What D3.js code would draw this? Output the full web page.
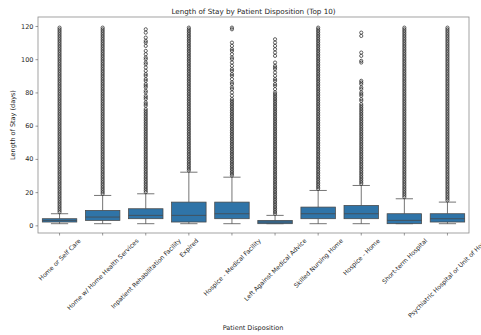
<!DOCTYPE html>
<html>
<head>
<meta charset="utf-8">
<script src="https://cdn.jsdelivr.net/npm/d3@7"></script>
<style>
  html, body { margin: 0; padding: 0; background: #fff; }
  svg text { font-family: "DejaVu Sans", sans-serif; fill: #262626; }
</style>
</head>
<body>
<svg id="chart" width="481" height="335"></svg>
<script>
// Patient disposition categories (top 10 by count)
const categories = [
  "Home or Self Care",
  "Home w/ Home Health Services",
  "Inpatient Rehabilitation Facility",
  "Expired",
  "Hospice - Medical Facility",
  "Left Against Medical Advice",
  "Skilled Nursing Home",
  "Hospice - Home",
  "Short-term Hospital",
  "Psychiatric Hospital or Unit of Hosp"
];

// Box statistics, length of stay in days
const whiskerLow  = [1, 1, 1, 1, 1, 1, 1, 1, 1, 1];
const quartile1   = [2, 3, 4, 2, 4, 1, 4, 4, 1, 2];
const medians     = [3, 5, 6, 6, 7, 2, 7, 7, 3, 4];
const quartile3   = [4, 9, 10, 14, 14, 3, 11, 12, 7, 7];
const whiskerHigh = [7, 18, 19, 32, 29, 6, 21, 24, 16, 14];

// Outlying stays per disposition
const outliersHomeSelfCare = [8,9,10,11,12,13,14,15,16,17,18,19,20,21,22,23,24,25,26,27,28,29,30,31,32,33,34,35,36,37,38,39,40,41,42,43,44,45,46,47,48,49,50,51,52,53,54,55,56,57,58,59,60,61,62,63,64,65,66,67,68,69,70,71,72,73,74,75,76,77,78,79,80,81,82,83,84,85,86,87,88,89,90,91,92,93,94,95,96,97,98,99,100,101,102,103,104,105,106,107,108,109,110,111,112,113,114,115,116,117,118,119];
const outliersHomeHealth = [19,20,21,22,23,24,25,26,27,28,29,30,31,32,33,34,35,36,37,38,39,40,41,42,43,44,45,46,47,48,49,50,51,52,53,54,55,56,57,58,59,60,61,62,63,64,65,66,67,68,69,70,71,72,73,74,75,76,77,78,79,80,81,82,83,84,85,86,87,88,89,90,91,92,93,94,95,96,97,98,99,100,101,102,103,104,105,106,107,108,109,110,111,112,113,114,115,116,117,118,119];
const outliersInpatientRehab = [20,21,22,23,24,25,26,27,28,29,30,31,32,33,34,35,36,37,38,39,40,41,42,43,44,45,46,47,48,49,50,51,52,53,54,55,56,57,58,59,60,61,62,63,64,65,66,67,68,69,70,72,73,74,76,77,78,80,81,83,84,85,87,88,90,91,93,95,97,98,100,101,103,105,108,110,111,113,116,118];
const outliersExpired = [33,34,35,36,37,38,39,40,41,42,43,44,45,46,47,48,49,50,51,52,53,54,55,56,57,58,59,60,61,62,63,64,65,66,67,68,69,70,71,72,73,74,75,76,77,78,79,80,81,82,83,84,85,86,87,88,89,90,91,92,93,94,95,96,97,98,99,100,101,102,103,104,105,106,107,108,109,110,111,112,113,114,115,116,117,118,119];
const outliersHospiceMedical = [30,31,32,33,34,35,36,37,38,39,40,41,42,43,44,45,46,47,48,49,50,51,52,53,54,55,56,57,58,59,60,61,62,63,64,65,66,67,68,69,70,71,72,73,74,75,76,78,80,82,83,85,86,88,90,91,93,94,96,98,100,101,103,105,106,108,110,118,119];
const outliersLeftAMA = [7,8,9,10,11,12,13,14,15,16,17,18,19,20,21,22,23,24,25,26,27,28,29,30,31,32,33,34,35,36,37,38,39,40,41,42,43,44,45,46,47,48,49,50,51,52,53,54,55,56,57,58,59,60,61,62,63,64,65,66,67,68,69,70,71,72,73,74,75,76,77,78,79,80,82,84,85,87,88,90,92,94,95,96,98,102,104,106,108,110,112];
const outliersSkilledNursing = [22,23,24,25,26,27,28,29,30,31,32,33,34,35,36,37,38,39,40,41,42,43,44,45,46,47,48,49,50,51,52,53,54,55,56,57,58,59,60,61,62,63,64,65,66,67,68,69,70,71,72,73,74,75,76,77,78,79,80,81,82,83,84,85,86,87,88,89,90,91,92,93,94,95,96,97,98,99,100,101,102,103,104,105,106,107,108,109,110,111,112,113,114,115,116,117,118,119];
const outliersHospiceHome = [25,26,27,28,29,30,31,32,33,34,35,36,37,38,39,40,41,42,43,44,45,46,47,48,49,50,51,52,53,54,55,56,57,58,59,60,61,62,63,64,65,66,67,68,69,70,71,72,73,75,76,78,79,80,82,83,85,86,87,98,99,102,104,114,116];
const outliersShortTerm = [17,18,19,20,21,22,23,24,25,26,27,28,29,30,31,32,33,34,35,36,37,38,39,40,41,42,43,44,45,46,47,48,49,50,51,52,53,54,55,56,57,58,59,60,61,62,63,64,65,66,67,68,69,70,71,72,73,74,75,76,77,78,79,80,81,82,83,84,85,86,87,88,89,90,91,92,93,94,95,96,97,98,99,100,101,102,103,104,105,106,107,108,109,110,111,112,113,114,115,116,117,118,119];
const outliersPsychiatric = [15,16,17,18,19,20,21,22,23,24,25,26,27,28,29,30,31,32,33,34,35,36,37,38,39,40,41,42,43,44,45,46,47,48,49,50,51,52,53,54,55,56,57,58,59,60,61,62,63,64,65,66,67,68,69,70,71,72,73,74,75,76,77,78,79,80,81,82,83,84,85,86,87,88,89,90,91,92,93,94,95,96,97,98,99,100,101,102,103,104,105,106,107,108,109,110,111,112,113,114,115,116,117,118,119];

const outlierLists = [
  outliersHomeSelfCare, outliersHomeHealth, outliersInpatientRehab, outliersExpired,
  outliersHospiceMedical, outliersLeftAMA, outliersSkilledNursing, outliersHospiceHome,
  outliersShortTerm, outliersPsychiatric
];

const yTicks = [0, 20, 40, 60, 80, 100, 120];

const titleText = "Length of Stay by Patient Disposition (Top 10)";
const xTitle = "Patient Disposition";
const yTitle = "Length of Stay (days)";

// Layout
const plot = { left: 38, right: 469, top: 17, bottom: 233 };
const boxFill = "#2f74a8";
const lineColor = "#474747";

const svg = d3.select("#chart");

const x = d3.scaleBand()
  .domain(categories)
  .range([plot.left, plot.right])
  .paddingInner(0.2)
  .paddingOuter(0.1);

const y = d3.scaleLinear()
  .domain([-4.6, 125.4])
  .range([plot.bottom, plot.top]);

const boxes = categories.map((c, i) => ({
  cat: c,
  lo: whiskerLow[i], q1: quartile1[i], med: medians[i], q3: quartile3[i], hi: whiskerHigh[i],
  out: outlierLists[i]
}));

const g = svg.append("g");
const bw = x.bandwidth();
const center = c => x(c) + bw / 2;

// Whiskers and caps
const groups = g.selectAll("g.box").data(boxes).join("g").attr("class", "box");

groups.append("line")
  .attr("x1", d => center(d.cat)).attr("x2", d => center(d.cat))
  .attr("y1", d => y(d.q3)).attr("y2", d => y(d.hi))
  .attr("stroke", lineColor).attr("stroke-width", 0.75);
groups.append("line")
  .attr("x1", d => center(d.cat)).attr("x2", d => center(d.cat))
  .attr("y1", d => y(d.q1)).attr("y2", d => y(d.lo))
  .attr("stroke", lineColor).attr("stroke-width", 0.75);
groups.append("line")
  .attr("x1", d => center(d.cat) - bw / 4).attr("x2", d => center(d.cat) + bw / 4)
  .attr("y1", d => y(d.hi)).attr("y2", d => y(d.hi))
  .attr("stroke", lineColor).attr("stroke-width", 0.75);
groups.append("line")
  .attr("x1", d => center(d.cat) - bw / 4).attr("x2", d => center(d.cat) + bw / 4)
  .attr("y1", d => y(d.lo)).attr("y2", d => y(d.lo))
  .attr("stroke", lineColor).attr("stroke-width", 0.75);

// Boxes
groups.append("rect")
  .attr("x", d => x(d.cat))
  .attr("width", bw)
  .attr("y", d => y(d.q3))
  .attr("height", d => Math.max(0.5, y(d.q1) - y(d.q3)))
  .attr("fill", boxFill)
  .attr("stroke", lineColor)
  .attr("stroke-width", 0.75);

// Medians
groups.append("line")
  .attr("x1", d => x(d.cat)).attr("x2", d => x(d.cat) + bw)
  .attr("y1", d => y(d.med)).attr("y2", d => y(d.med))
  .attr("stroke", lineColor).attr("stroke-width", 0.75);

// Outliers
groups.selectAll("circle")
  .data(d => d.out.map(v => ({ cat: d.cat, v })))
  .join("circle")
  .attr("cx", d => center(d.cat))
  .attr("cy", d => y(d.v))
  .attr("r", 1.6)
  .attr("fill", "none")
  .attr("stroke", "#2e2e2e")
  .attr("stroke-width", 0.75);

// Frame
svg.append("rect")
  .attr("x", plot.left).attr("y", plot.top)
  .attr("width", plot.right - plot.left).attr("height", plot.bottom - plot.top)
  .attr("fill", "none").attr("stroke", "#8c8c8c").attr("stroke-width", 0.8);

// Y axis
const yAxis = d3.axisLeft(y).tickValues(yTicks).tickSize(2.5).tickPadding(2);
const ya = svg.append("g").attr("transform", `translate(${plot.left},0)`).call(yAxis);
ya.select(".domain").remove();
ya.selectAll(".tick line").attr("stroke", "#555").attr("stroke-width", 0.6);
ya.selectAll(".tick text").style("font-size", "6.5px").attr("fill", "#262626");

// X axis ticks
const xAxis = d3.axisBottom(x).tickSize(2.5).tickFormat("");
const xa = svg.append("g").attr("transform", `translate(0,${plot.bottom})`).call(xAxis);
xa.select(".domain").remove();
xa.selectAll(".tick line").attr("stroke", "#555").attr("stroke-width", 0.6);

// Rotated category labels, bounding box centred under each tick
const labelFont = 6.2;
const labelTop = plot.bottom + 4;
categories.forEach(c => {
  const t = svg.append("text")
    .attr("text-anchor", "middle")
    .attr("dominant-baseline", "central")
    .style("font-size", labelFont + "px")
    .text(c);
  const w = t.node().getComputedTextLength();
  const h = labelFont * 1.1;
  const half = (w + h) / (2 * Math.SQRT2);
  t.attr("transform", `translate(${center(c)},${labelTop + half}) rotate(-45)`);
});

// Titles
svg.append("text")
  .attr("x", (plot.left + plot.right) / 2).attr("y", 13.5)
  .attr("text-anchor", "middle")
  .style("font-size", "7.2px")
  .text(titleText);

svg.append("text")
  .attr("x", 253).attr("y", 329.5)
  .attr("text-anchor", "middle")
  .style("font-size", "6.5px")
  .text(xTitle);

svg.append("text")
  .attr("transform", `translate(15,${(plot.top + plot.bottom) / 2}) rotate(-90)`)
  .attr("text-anchor", "middle")
  .style("font-size", "6.5px")
  .text(yTitle);
</script>
</body>
</html>
